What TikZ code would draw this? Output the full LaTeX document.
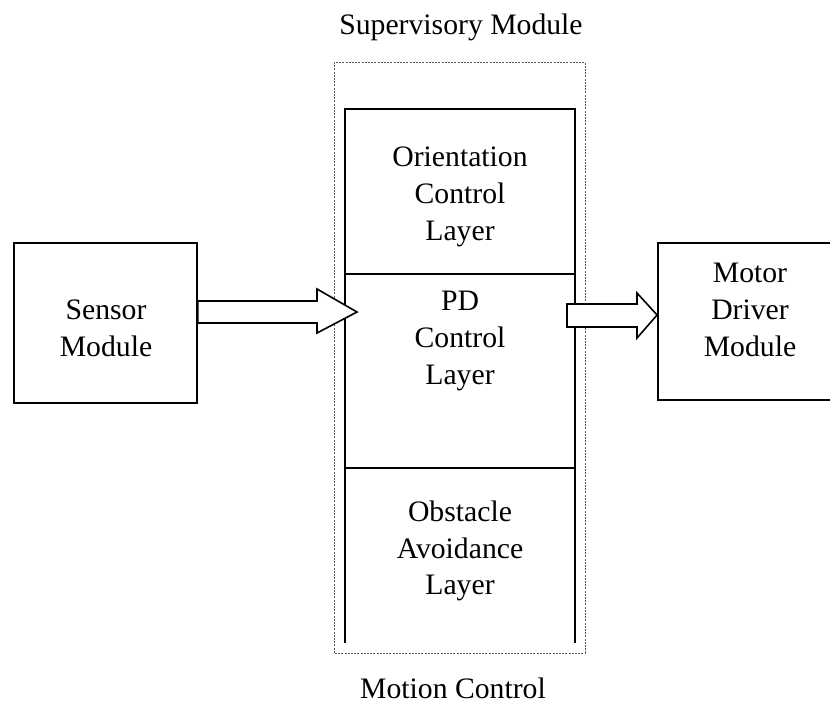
\documentclass[tikz,border=0pt]{standalone}
\usepackage{fontspec}
\setmainfont{Liberation Serif}
\begin{document}
\begin{tikzpicture}[x=1pt,y=-1pt,
  lbl/.style={font=\fontsize{29.7}{36.7}\selectfont, align=center, inner sep=0pt},
  box/.style={draw, line width=1.8pt, inner sep=0pt},
  blockarrow/.style={draw, fill=white, line width=1.6pt, line join=miter},
  dotbox/.style={draw=black!65, line width=0.9pt, dash pattern=on 2pt off 1.2pt},
  layer/.style={draw, line width=1.8pt}]
\useasboundingbox (0,0) rectangle (830,704);
\begin{scope}
\clip (0,0) rectangle (830,704);
% supervisory dotted frame
\draw[dotbox] (334,62) rectangle (585,653);
% layer stack
\draw[layer] (345,643) -- (345,109) -- (575,109) -- (575,643);
\draw[layer] (345,274) -- (575,274);
\draw[layer] (345,468) -- (575,468);
\node[lbl] (ori) at (460,197) {Orientation\\Control\\Layer};
\node[lbl] (pd) at (460,341) {PD\\Control\\Layer};
\node[lbl] (obs) at (460,551) {Obstacle\\Avoidance\\Layer};
% sensor module
\node[box, minimum width=183pt, minimum height=160pt] (sensor) at (105.5,323) {};
\node[lbl] (sensortxt) at (106,328.5) {Sensor\\Module};
% motor driver module
\node[box, minimum width=184pt, minimum height=157pt] (motor) at (750,321.5) {};
\node[lbl] (motortxt) at (750,310) {Motor\\Driver\\Module};
% block arrows
\draw[blockarrow] (sensor.east |- 0,301) -- (317,301) -- (317,289) -- (357,312)
  -- (317,333) -- (317,323) -- (sensor.east |- 0,323) -- cycle;
\draw[blockarrow] (567,304) -- (637,304) -- (637,293) -- (motor.west |- 0,315)
  -- (637,338) -- (637,327) -- (567,327) -- cycle;
% titles
\node[lbl] (sup) at (461,27) {Supervisory Module};
\node[lbl] (mot) at (453,688) {Motion Control};
\end{scope}
\end{tikzpicture}
\end{document}
